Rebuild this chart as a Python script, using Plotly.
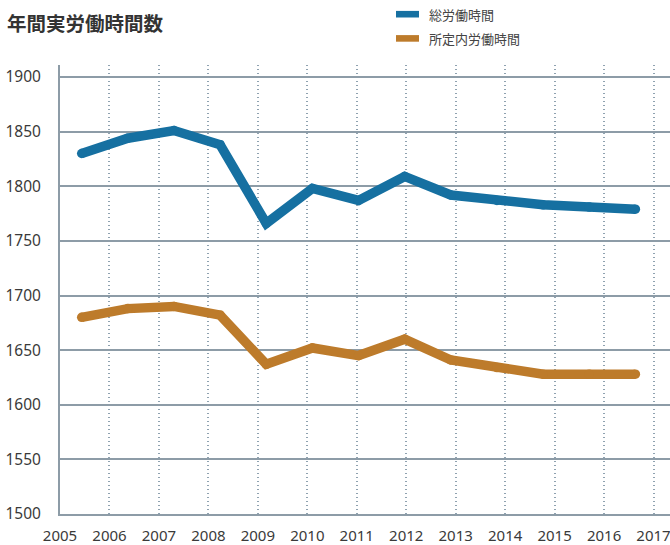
import plotly.graph_objects as go

# ---- data ----
periods = ["2005", "2006", "2007", "2008", "2009", "2010", "2011",
           "2012", "2013", "2014", "2015", "2016", "2017"]
total_hours = [1830, 1844, 1851, 1838, 1766, 1798, 1787, 1809, 1792, 1787, 1783, 1781, 1779]
scheduled_hours = [1680, 1688, 1690, 1682, 1637, 1652, 1645, 1660, 1641, 1634, 1628, 1628, 1628]
year_ticks = list(range(2005, 2018))
y_ticks = list(range(1500, 1901, 50))

series_names = ["総労働時間", "所定内労働時間"]
colors = ["#1670a1", "#bd7b2b"]

W, H = 670, 545
L, R, T, B = 60, 0, 65, 31
pw, ph = W - L - R, H - T - B


def px(x):
    return (x - L) / pw


def py(y):
    return (H - B - y) / ph


fig = go.Figure()
# invisible trace that carries the year axis
fig.add_trace(go.Scatter(x=year_ticks, y=[None] * len(year_ticks), xaxis="x", yaxis="y",
                         mode="lines", hoverinfo="skip", showlegend=False))
for name, vals, c in zip(series_names, [total_hours, scheduled_hours], colors):
    fig.add_trace(go.Scatter(
        x=periods, y=vals, name=name, xaxis="x2", yaxis="y",
        mode="lines+markers",
        line=dict(color=c, width=9.5),
        marker=dict(color=c, size=9.5, line=dict(width=0)),
        showlegend=False,
    ))

grid = "#8d9ca7"
font_fam = "Noto Sans, Noto Sans CJK JP, sans-serif"

fig.update_layout(
    width=W, height=H,
    margin=dict(l=L, r=R, t=T, b=B, autoexpand=False),
    paper_bgcolor="white", plot_bgcolor="white",
    font=dict(family=font_fam, size=15.5, color="#3a3a3a"),
    title=dict(text="<b>年間実労働時間数</b>", x=0.0, xanchor="left",
               y=1 - 24 / H, yanchor="middle", pad=dict(l=7, t=0, b=0, r=0),
               font=dict(family="Noto Sans CJK JP, sans-serif", size=19.5, color="#333333")),
    xaxis=dict(range=[2005, 2005 + pw / 49.46], tickvals=year_ticks,
               showgrid=True, gridcolor="#8fa2b0", gridwidth=2, griddash="1.3px,2.7px",
               showline=True, linecolor=grid, linewidth=2,
               ticks="outside", ticklen=7, tickcolor="rgba(0,0,0,0)",
               tickfont=dict(size=15),
               ticklabeloverflow="allow",
               zeroline=False, automargin=False),
    xaxis2=dict(type="category", overlaying="x", range=[-0.47, 12.75],
                visible=False, showgrid=False),
    yaxis=dict(range=[1500, 1911], tickvals=y_ticks,
               showgrid=True, gridcolor=grid, gridwidth=2,
               showline=True, linecolor=grid, linewidth=2,
               ticks="outside", ticklen=14, tickcolor="rgba(0,0,0,0)",
               zeroline=False, automargin=False),
)

# manual legend
leg_y = [14.2, 38.4]
for name, c, yc in zip(series_names, colors, leg_y):
    fig.add_shape(type="rect", xref="paper", yref="paper",
                  x0=px(396), x1=px(419), y0=py(yc - 3.3), y1=py(yc + 3.3),
                  fillcolor=c, line=dict(width=0))
    fig.add_annotation(text=name, xref="paper", yref="paper",
                       x=px(427), y=py(yc), xanchor="left", yanchor="middle",
                       showarrow=False,
                       font=dict(family="Noto Sans CJK JP, sans-serif", size=13, color="#444444"))

fig.write_html("out.html", config={"displayModeBar": False},
               post_script="document.body.style.margin='0px';")
